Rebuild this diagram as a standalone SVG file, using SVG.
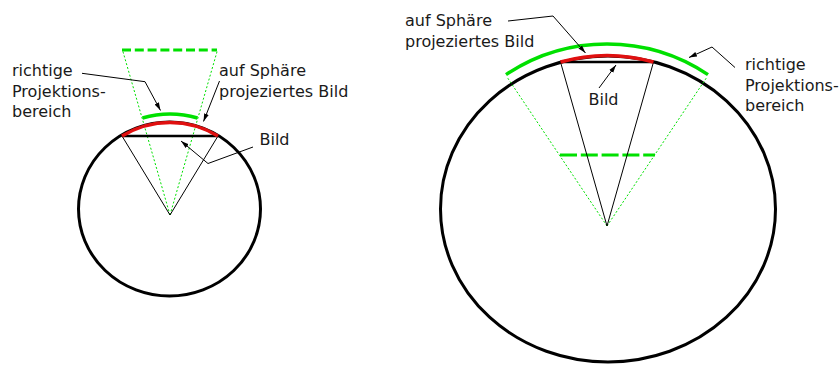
<svg xmlns="http://www.w3.org/2000/svg" width="840" height="365" viewBox="0 0 840 365">
  <defs>
    <marker id="arrow" viewBox="0 0 8 6" refX="8" refY="3" markerWidth="8" markerHeight="6" markerUnits="userSpaceOnUse" orient="auto">
      <path d="M0,0.6 L8,3 L0,5.4 z" fill="#000"/>
    </marker>
    <style>
      .sphere { fill: none; stroke: #000; stroke-width: 3; }
      .chord { stroke: #000; stroke-width: 2.5; fill: none; }
      .ray { stroke: #000; stroke-width: 1; fill: none; }
      .proj { fill: none; stroke: #e01010; stroke-width: 3.5; }
      .range { fill: none; stroke: #00e000; stroke-width: 3.5; }
      .cone { fill: none; stroke: #00e000; stroke-width: 1; stroke-dasharray: 2 2; }
      .plane { fill: none; stroke: #00e000; stroke-width: 3; }
      .leader { fill: none; stroke: #000; stroke-width: 1; marker-end: url(#arrow); }
      text { font-family: "DejaVu Sans", "Liberation Sans", sans-serif; font-size: 16px; fill: #1a1a1a; }
    </style>
  </defs>

  <!-- small sphere: image close to the viewpoint -->
  <g id="sphere-small">
    <ellipse class="sphere" cx="169.5" cy="209" rx="91" ry="87"/>
    <path class="cone" d="M170,215 L122.5,50 M170,215 L217.5,50"/>
    <path class="plane" d="M122,50 H217" stroke-dasharray="9 3.8"/>
    <path class="ray" d="M122,136 L170,215 L218,136"/>
    <path class="chord" d="M122,136 H218"/>
    <path class="proj" d="M122,136 A92.4,92.4 0 0 1 218,136"/>
    <path class="range" d="M142.5,118 A101,101 0 0 1 197.5,118"/>
  </g>

  <!-- large sphere: image far from the viewpoint -->
  <g id="sphere-large">
    <ellipse class="sphere" cx="608" cy="209" rx="167.5" ry="153"/>
    <path class="cone" d="M607,226 L507,77 M607,226 L707,77"/>
    <path class="plane" d="M560,155 H655" stroke-dasharray="17 3.8"/>
    <path class="ray" d="M560.5,62 L607,226 L653.5,62"/>
    <path class="chord" d="M560.5,62 H653.5"/>
    <path class="proj" d="M560.5,62 A170.6,170.6 0 0 1 653.5,62"/>
    <path class="range" d="M506,74.6 A182,182 0 0 1 708,74.6"/>
  </g>

  <!-- labels -->
  <g id="label-range-left">
    <text x="12" y="75.7">richtige</text>
    <text x="12" y="96.5">Projektions-</text>
    <text x="12" y="117.2">bereich</text>
  </g>
  <g id="label-proj-left">
    <text x="219" y="75.7">auf Sphäre</text>
    <text x="219" y="96.5">projeziertes Bild</text>
  </g>
  <g id="label-image-left">
    <text x="259.5" y="145">Bild</text>
  </g>
  <g id="label-proj-right">
    <text x="405" y="25.7">auf Sphäre</text>
    <text x="405" y="46.5">projeziertes Bild</text>
  </g>
  <g id="label-range-right">
    <text x="745" y="70">richtige</text>
    <text x="745" y="90.7">Projektions-</text>
    <text x="745" y="111.4">bereich</text>
  </g>
  <g id="label-image-right">
    <text x="588.5" y="105">Bild</text>
  </g>

  <!-- leader lines -->
  <g id="connectors">
    <path class="leader" d="M82,73.3 L145,81.7 L160.5,110.5"/>
    <path class="leader" d="M219.5,81 L203.5,121.5"/>
    <path class="leader" d="M253,147 L208,163.5 L181,141"/>
    <path class="leader" d="M508,21 L553,16 L585.5,53"/>
    <path class="leader" d="M735,67.5 L712,47 L689,57.5"/>
    <path class="leader" d="M599,88 L616,65"/>
  </g>
</svg>
